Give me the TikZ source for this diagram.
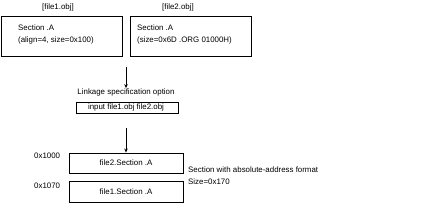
\documentclass[tikz,border=0pt]{standalone}
\usepackage{fontspec}
\setmainfont{Liberation Sans}
\usetikzlibrary{arrows.meta}
\begin{document}
\begin{tikzpicture}[x=1pt,y=-1pt,
  box/.style={draw,line width=0.9pt,inner sep=0pt},
  lbl/.style={font=\fontsize{7.9}{11.5}\selectfont,inner sep=0pt},
  conn/.style={line width=0.8pt,-{Stealth[length=4pt,width=3.5pt]}}]
\useasboundingbox (0,0) rectangle (443,207);
\node[box,minimum width=121,minimum height=40] (b1) at (61.5,36) {};
\node[box,minimum width=121,minimum height=40] (b2) at (190.5,36) {};
\node[lbl] (t1) at (58,7) {[file1.obj]};
\node[lbl] (t2) at (178,7) {[file2.obj]};
\node[lbl,anchor=west,align=left] (s1) at (18,34.5) {Section .A\\(align=4, size=0x100)};
\node[lbl,anchor=west,align=left] (s2) at (137,34.5) {Section .A\\(size=0x6D .ORG 01000H)};
\coordinate (a1) at (126,67);
\node[lbl] (link) at (126,92) {Linkage specification option};
\node[box,minimum width=102,minimum height=11] (b3) at (127,107.5) {};
\node[lbl] (in) at (126,107.5) {input file1.obj file2.obj};
\coordinate (a2) at (126,128);
\node[box,minimum width=114,minimum height=20] (b4) at (126,163) {};
\node[box,minimum width=114,minimum height=21] (b5) at (126,191.5) {};
\node[lbl] (f2) at (126,163) {file2.Section .A};
\node[lbl] (f1) at (126,192) {file1.Section .A};
\node[lbl,anchor=west] (h1) at (34,156) {0x1000};
\node[lbl,anchor=west] (h2) at (34,186) {0x1070};
\node[lbl,anchor=west,align=left] (note) at (188,175.5) {Section with absolute-address format\\Size=0x170};
\draw[conn] (a1) -- (link.north -| a1);
\draw[conn] (a2) -- (b4.north -| a2);
\end{tikzpicture}
\end{document}
